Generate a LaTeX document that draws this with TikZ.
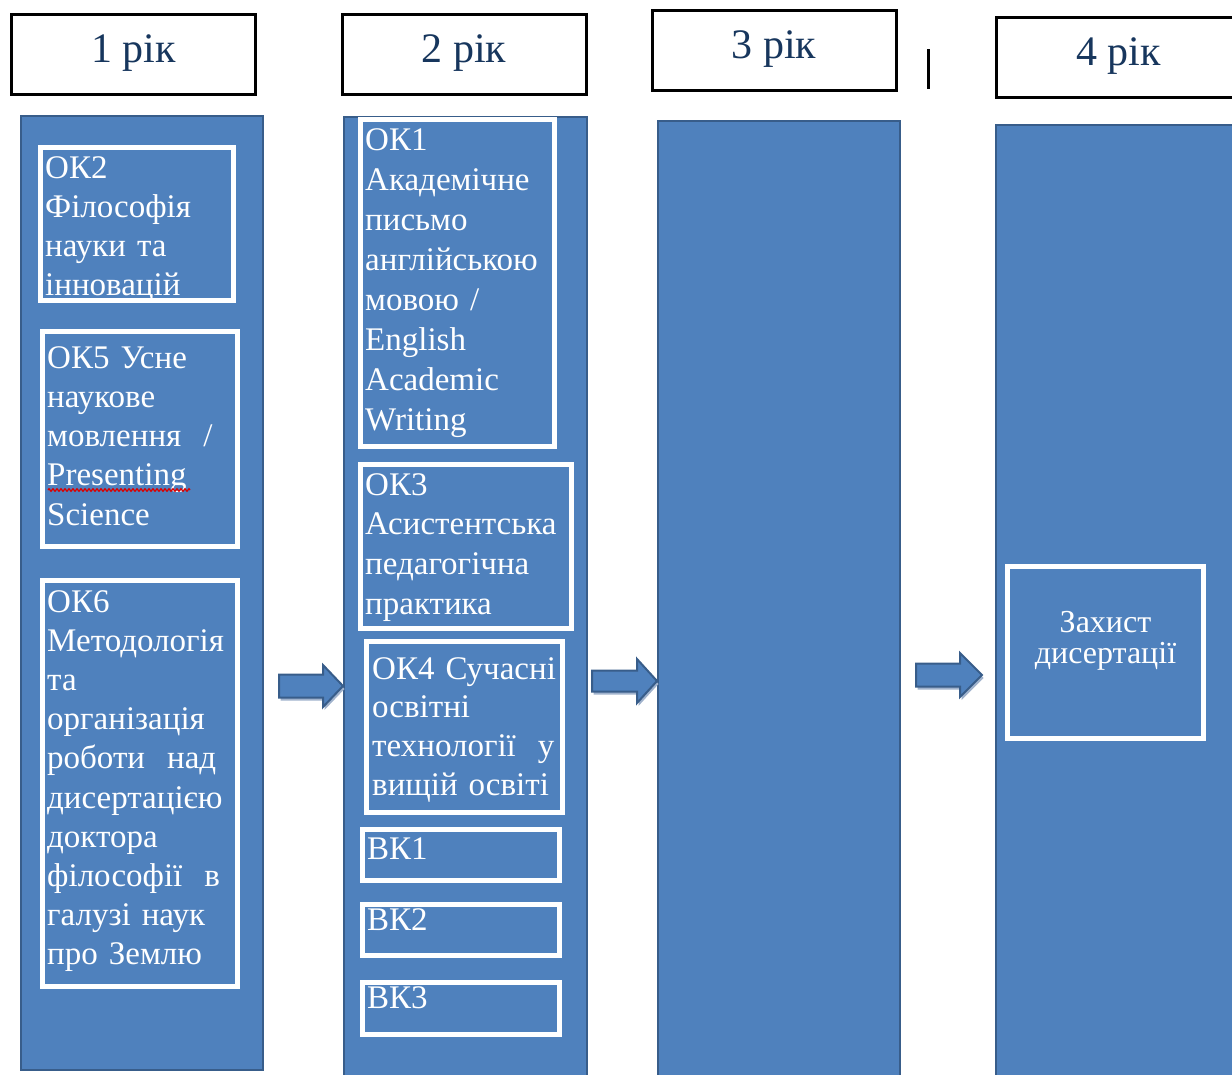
\documentclass[tikz,border=0pt]{standalone}
\usepackage{fontspec}
\setmainfont{Liberation Serif}
\usetikzlibrary{calc,decorations.pathmorphing}
\definecolor{colfill}{RGB}{79,129,189}
\definecolor{colline}{RGB}{56,93,138}
\definecolor{headtext}{RGB}{23,54,93}
\definecolor{shadowc}{RGB}{160,178,204}
\newcommand{\blockarr}[6]{%
  \path[#6] (#1) ++(0,-#3) -| ($(#2)+(-#4,-#3-#5)$) -- (#2) -- ($(#2)+(-#4,#3+#5)$) |- ($(#1)+(0,#3)$) -- cycle;}
\begin{document}
\begin{tikzpicture}[x=1pt,y=-1pt,
  yearbox/.style={draw=black, line width=3pt, fill=white, minimum width=244pt, minimum height=80pt,
    inner sep=0pt, font=\fontsize{42}{48}\selectfont, text=headtext, text height=28pt, text depth=13pt},
  column/.style={draw=colline, line width=2.5pt, fill=colfill, inner sep=0pt},
  course/.style={draw=white, line width=5pt, inner sep=0pt},
  ctext/.style={text=white, anchor=base west, inner sep=0pt, text width=300pt, align=left,
    font=\fontsize{33}{39.5}\selectfont},
  barrow/.style={fill=colfill, draw=colline, line width=2pt, line join=miter},
  bshadow/.style={fill=shadowc},
]
\clip (0,0) rectangle (1232,1074);
\useasboundingbox (0,0) rectangle (1232,1074);

% year headers
\node[yearbox] (y1) at (133.5,54.5) {1 рік};
\node[yearbox] (y2) at (464,54.5) {2 рік};
\node[yearbox] (y3) at (774,50.5) {3 рік};
\node[yearbox] (y4) at (1118.5,57.5) {4 рік};
\draw[line width=3pt] (928,49) -- (928,89);

% columns
\node[column, minimum width=242pt, minimum height=954pt] (c1) at (142,593) {};
\node[column, minimum width=243pt, minimum height=973pt] (c2) at (465.5,603.5) {};
\node[column, minimum width=242pt, minimum height=969pt] (c3) at (779,605.5) {};
\node[column, minimum width=253pt, minimum height=965pt] (c4) at (1122.5,607.5) {};

% course boxes, year 1
\node[course, minimum width=193pt, minimum height=153pt] (ok2) at (137,224) {};
\node[course, minimum width=195pt, minimum height=215pt] (ok5) at (140,439) {};
\node[course, minimum width=195pt, minimum height=406pt] (ok6) at (140,783.5) {};
% course boxes, year 2
\node[course, minimum width=194pt, minimum height=327pt] (ok1) at (457.5,283) {};
\node[course, minimum width=211pt, minimum height=164pt] (ok3) at (466,546.5) {};
\node[course, minimum width=196pt, minimum height=171pt] (ok4) at (464.5,727) {};
\node[course, minimum width=197pt, minimum height=51pt] (vk1) at (461,855) {};
\node[course, minimum width=197pt, minimum height=51pt] (vk2) at (461,930) {};
\node[course, minimum width=197pt, minimum height=52pt] (vk3) at (461,1008.5) {};
% year 4
\node[course, minimum width=196pt, minimum height=172pt] (zah) at (1105.5,652.5) {};

% texts
\node[ctext, font=\fontsize{33}{39}\selectfont] (tok2) at (45,178) {ОК2\\Філософія\\науки та\\інновацій};
\node[ctext, font=\fontsize{33}{39.3}\selectfont] (tok5) at (47,368) {ОК5 Усне\\наукове\\мовлення \ /\\Presenting\\Science};
\node[ctext, font=\fontsize{33}{39.2}\selectfont] (tok6) at (47,612) {ОК6\\Методологія\\та\\організація\\роботи \ над\\дисертацією\\доктора\\філософії \ в\\галузі наук\\про Землю};
\node[ctext, font=\fontsize{33}{40.1}\selectfont] (tok1) at (365,150) {ОК1\\Академічне\\письмо\\англійською\\мовою /\\English\\Academic\\Writing};
\node[ctext, font=\fontsize{33}{39.7}\selectfont] (tok3) at (365,495) {ОК3\\Асистентська\\педагогічна\\практика};
\node[ctext, font=\fontsize{33}{38.7}\selectfont] (tok4) at (372,679) {ОК4 Сучасні\\освітні\\технології \ у\\вищій освіті};
\node[ctext] (tvk1) at (367,859) {ВК1};
\node[ctext] (tvk2) at (367,930) {ВК2};
\node[ctext] (tvk3) at (367,1008) {ВК3};
\node[text=white, inner sep=0pt, text width=200pt, align=center, anchor=base,
  font=\fontsize{32}{31}\selectfont] (tzah) at (1105.5,632) {Захист\\дисертації};

% spell-check underline
\draw[red!85!black, line width=1.3pt, decorate, decoration={zigzag, amplitude=1.2pt, segment length=4pt}]
  (48,490) -- (190,490);

% arrows between years
\coordinate (a1s) at (279,686); \coordinate (a1e) at (343,686);
\coordinate (a2s) at (592,681); \coordinate (a2e) at (657,681);
\coordinate (a3s) at (916,675); \coordinate (a3e) at (982,675);
\begin{scope}[transform canvas={shift={(1.5,3)}}]
\blockarr{a1s}{a1e}{11.5}{20}{9.5}{bshadow}
\blockarr{a2s}{a2e}{10.5}{20}{11.5}{bshadow}
\blockarr{a3s}{a3e}{11.5}{22}{10.5}{bshadow}
\end{scope}
\blockarr{a1s}{a1e}{11.5}{20}{9.5}{barrow}
\blockarr{a2s}{a2e}{10.5}{20}{11.5}{barrow}
\blockarr{a3s}{a3e}{11.5}{22}{10.5}{barrow}
\end{tikzpicture}
\end{document}
